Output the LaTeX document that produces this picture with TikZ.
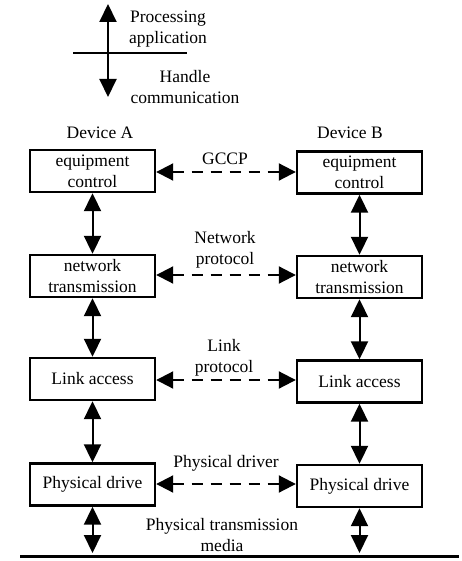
\documentclass[tikz,border=0pt]{standalone}
\usepackage{fontspec}
\setmainfont{Liberation Serif}
\usetikzlibrary{arrows.meta}
\begin{document}
\begin{tikzpicture}[x=1pt,y=-1pt,
  every node/.style={font=\fontsize{17.5}{21}\selectfont, inner sep=0pt},
  layer/.style={draw, line width=2.4pt, minimum width=125pt, minimum height=42pt, align=center},
  lbl/.style={align=center},
  vlink/.style={line width=2pt, {Triangle[length=18pt,width=17pt]}-{Triangle[length=18pt,width=17pt]}},
  plink/.style={line width=2pt, dash pattern=on 11pt off 8pt,
    {Triangle[length=17pt,width=17pt]}-{Triangle[length=17pt,width=17pt]}}]
\useasboundingbox (0,0) rectangle (461,561);

% legend: direction of processing vs. communication
\coordinate (legTop) at (108,4);
\coordinate (legBot) at (108,97);
\coordinate (legL) at (73,53);
\coordinate (legR) at (187,53);
\draw[line width=1.8pt] (legL) -- (legR);
\draw[vlink] (legBot) -- (legTop);
\node[lbl] (proc) at (168,29) {Processing\\application};
\node[lbl] (hand) at (185,87) {Handle\\communication};

% device headers
\node (devA) at (100,133) {Device A};
\node (devB) at (350,133) {Device B};

% protocol stacks
\node[layer] (eqA)  at (92.5,171)   {equipment\\control};
\node[layer] (eqB)  at (359.5,172.5) {equipment\\control};
\node[layer] (netA) at (92.5,276)   {network\\transmission};
\node[layer] (netB) at (359.5,277)  {network\\transmission};
\node[layer] (lnkA) at (92.5,379)   {Link access};
\node[layer] (lnkB) at (359.5,381.5) {Link access};
\node[layer] (phyA) at (92.5,484.5) {Physical drive};
\node[layer] (phyB) at (359.5,486)  {Physical drive};

% medium
\coordinate (medA) at (92.5,553);
\coordinate (medB) at (359.5,553);
\coordinate (busL) at (20,556.5);
\coordinate (busR) at (459,556.5);
\draw[line width=2.4pt] (busL) -- (busR);

% vertical interfaces
\draw[vlink] (eqA) -- (netA);
\draw[vlink] (netA) -- (lnkA);
\draw[vlink] (lnkA) -- (phyA);
\draw[vlink] (phyA) -- (medA);
\draw[vlink] (eqB) -- (netB);
\draw[vlink] (netB) -- (lnkB);
\draw[vlink] (lnkB) -- (phyB);
\draw[vlink] (phyB) -- (medB);

% peer protocols
\draw[plink] (eqA.east |- 0,172) -- (eqB.west |- 0,172);
\draw[plink] (netA.east |- 0,275) -- (netB.west |- 0,275);
\draw[plink] (lnkA.east |- 0,380) -- (lnkB.west |- 0,380);
\draw[plink] (phyA.east |- 0,484) -- (phyB.west |- 0,484);

\node[fill=white, inner xsep=2pt] (gccp) at (225,159) {GCCP};
\node[lbl] (netp) at (225,250) {Network\\protocol};
\node[lbl] (lnkp) at (224,358) {Link\\protocol};
\node (phyd) at (226,463) {Physical driver};
\node[lbl] (medium) at (222,535) {Physical transmission\\media};
\end{tikzpicture}
\end{document}
